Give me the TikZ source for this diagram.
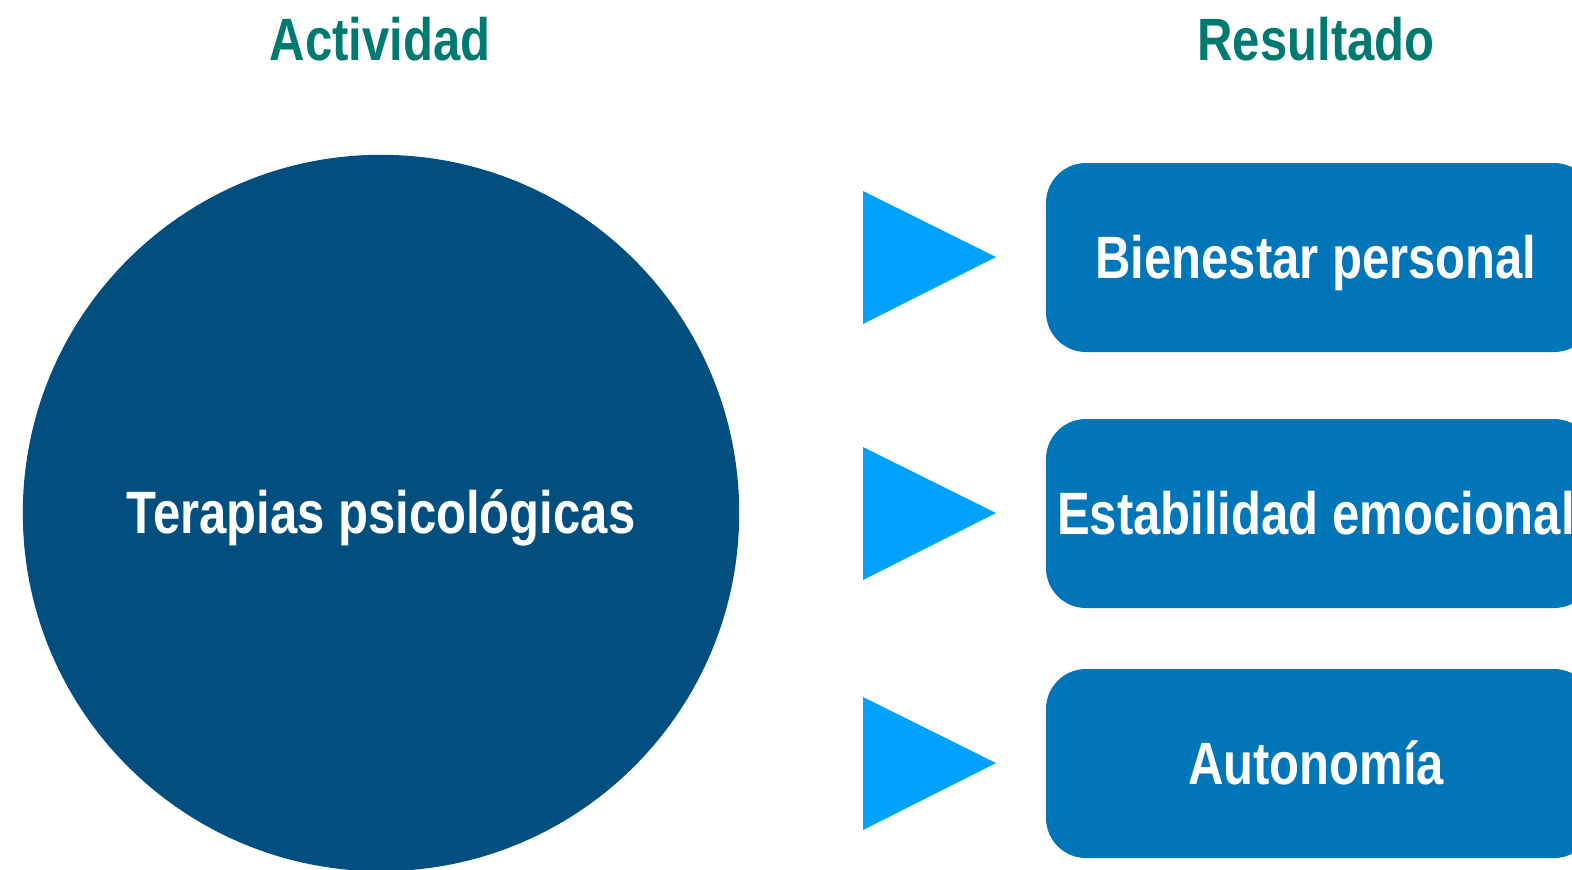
\documentclass[tikz,border=0pt]{standalone}
\usepackage{fontspec}
\setmainfont{Liberation Sans}[FakeStretch=0.82]
\usepackage{xcolor}
\usetikzlibrary{positioning}
\definecolor{tealtitle}{HTML}{007A70}
\definecolor{circleblue}{HTML}{004F7F}
\definecolor{boxblue}{HTML}{0075B8}
\definecolor{arrowblue}{HTML}{00A2FF}

\begin{document}
\begin{tikzpicture}[x=0.01cm,y=-0.01cm,
  every node/.style={font=\fontsize{17}{20}\selectfont\bfseries,inner sep=0pt},
  titletext/.style={text=tealtitle,anchor=base},
  whitetext/.style={text=white,anchor=base},
  resultbox/.style={fill=boxblue,rounded corners=0.4cm},
  arrowtri/.style={fill=arrowblue}]
  \useasboundingbox (0,0) rectangle (1572,869);
  \clip (0,0) rectangle (1572,869);
  % titles
  \node[titletext] (act) at (380,60) {Actividad};
  \node[titletext] (res) at (1316,60) {Resultado};
  % activity
  \fill[circleblue] (381,513) circle[radius=3.58cm];
  \node[whitetext] (ter) at (381,533) {Terapias psicológicas};
  % arrows
  \fill[arrowtri] (863,191) -- (996,257) -- (863,324) -- cycle;
  \fill[arrowtri] (863,447) -- (996,513) -- (863,580) -- cycle;
  \fill[arrowtri] (863,697) -- (996,763) -- (863,830) -- cycle;
  % results
  \fill[resultbox] (1046,163) rectangle (1594,352);
  \fill[resultbox] (1046,419) rectangle (1594,608);
  \fill[resultbox] (1046,669) rectangle (1594,858);
  \node[whitetext] (bien) at (1316,278) {Bienestar personal};
  \node[whitetext] (esta) at (1316,534) {Estabilidad emocional};
  \node[whitetext] (auto) at (1316,784) {Autonomía};
\end{tikzpicture}
\end{document}
